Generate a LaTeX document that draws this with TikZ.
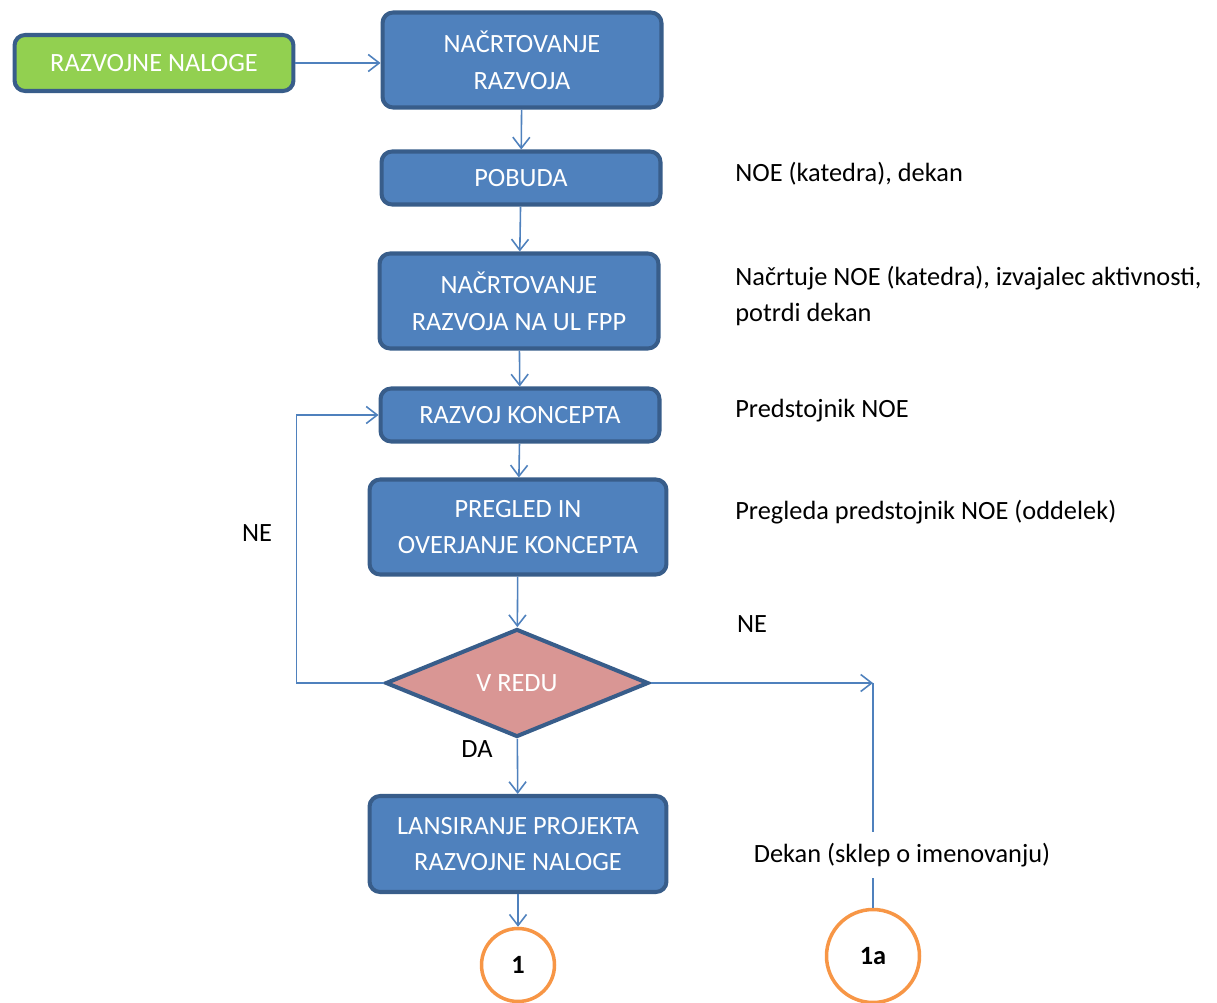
\documentclass[tikz,border=0pt]{standalone}
\usepackage{fontspec}
\setmainfont{Carlito}
\usetikzlibrary{arrows.meta,positioning,shapes.geometric}
\definecolor{cBlue}{HTML}{4F81BD}
\definecolor{cEdge}{HTML}{385D8A}
\definecolor{cGreen}{HTML}{92D050}
\definecolor{cRose}{HTML}{D99694}
\definecolor{cOrange}{HTML}{F79646}
\tikzset{
  >={Straight Barb[length=2.2mm,width=3.4mm]},
  txt/.style ={font=\fontsize{15}{21}\selectfont},
  box/.style ={txt,rounded corners=6pt,draw=cEdge,line width=2.3pt,fill=cBlue,text=white,
               align=center,inner sep=2pt,minimum width=5.58cm},
  gbox/.style={box,fill=cGreen,minimum height=1.12cm},
  dia/.style ={txt,diamond,draw=cEdge,line width=2.3pt,fill=cRose,text=white,inner sep=0pt,
               minimum width=5.26cm,minimum height=2.16cm},
  con/.style ={circle,draw=cOrange,line width=2pt,fill=white,font=\fontsize{15}{21}\selectfont\bfseries,inner sep=0pt},
  ar/.style  ={->,cBlue,line width=0.9pt},
  ln/.style  ={cBlue,line width=0.9pt},
  note/.style={txt,anchor=west,align=left,inner sep=0pt},
  lbl/.style ={txt,inner sep=0pt},
}

\begin{document}
\begin{tikzpicture}[x=0.02cm,y=-0.02cm]
\useasboundingbox (0,0) rectangle (1217,1003);
% main column
\node[gbox] (nal) at (154,63) {RAZVOJNE NALOGE};
\node[box,minimum height=1.9cm] (nrz) at (522,60) {NAČRTOVANJE\\RAZVOJA};
\node[box,minimum height=1.06cm] (pob) at (521,178) {POBUDA};
\node[box,minimum height=1.9cm] (nul) at (519,301) {NAČRTOVANJE\\RAZVOJA NA UL FPP};
\node[box,minimum height=1.06cm] (rk) at (520,415) {RAZVOJ KONCEPTA};
\node[box,minimum width=5.94cm,minimum height=1.9cm] (pre) at (518,527) {PREGLED IN\\OVERJANJE KONCEPTA};
\node[dia] (vr) at (517,683) {V REDU};
\node[box,minimum width=5.94cm,minimum height=1.92cm] (lan) at (518,844) {LANSIRANJE PROJEKTA\\RAZVOJNE NALOGE};
\node[con,minimum size=1.46cm] (c1) at (518,965) {1};
\node[con,minimum size=1.86cm] (c1a) at (873,956) {1a};
% notes on the right
\node[note] (n1) at (735,174) {NOE (katedra), dekan};
\node[note] (n2) at (735,296) {Načrtuje NOE (katedra), izvajalec aktivnosti,\\potrdi dekan};
\node[note] (n3) at (735,411) {Predstojnik NOE};
\node[note] (n4) at (735,512) {Pregleda predstojnik NOE (oddelek)};
\node[lbl,minimum height=0.92cm] (dek) at (902,855) {Dekan (sklep o imenovanju)};
\node[lbl] (ne1) at (257,533) {NE};
\node[lbl] (ne2) at (752,624) {NE};
\node[lbl] (da) at (477,749) {DA};
\coordinate (ne) at (873,683);
\coordinate (bot) at (873,1003);
% connectors
\draw[ar] (nal.east) -- (nal.east -| nrz.west);
\draw[ar] (nrz) -- (pob);
\draw[ar] (pob) -- (nul);
\draw[ar] (nul) -- (rk);
\draw[ar] (rk) -- (pre);
\draw[ar] (pre) -- (vr);
\draw[ar] (vr) -- (lan);
\draw[ar] (lan) -- (c1);
\draw[ar] (vr.west) -- ++(-87,0) |- (rk.west);
\draw[ar] (vr.east) -- (ne);
\draw[ln] (ne) -- (ne |- dek.north);
\draw[ln] (ne |- dek.south) -- (c1a);
\draw[ln] (c1a) -- (bot);
\end{tikzpicture}
\end{document}
